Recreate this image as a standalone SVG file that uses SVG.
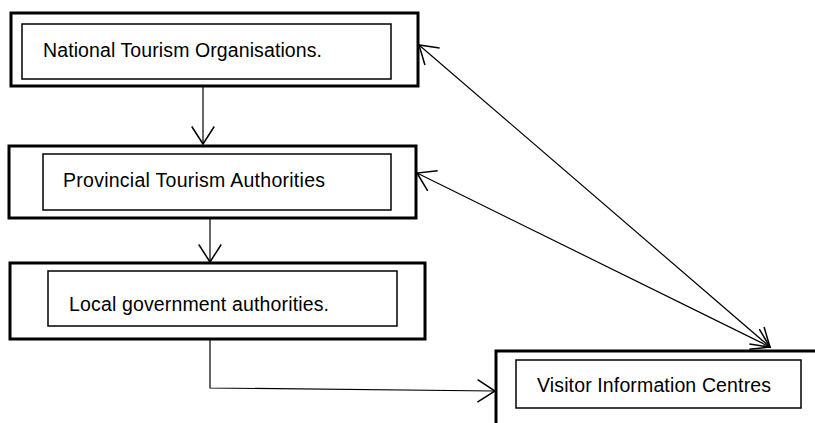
<svg xmlns="http://www.w3.org/2000/svg" width="815" height="423" viewBox="0 0 815 423">
<style>
.outer{fill:#fff;stroke:#000;stroke-width:3}
.inner{fill:#fff;stroke:#000;stroke-width:1.5}
.lbl{font-family:"Liberation Sans",Arial,sans-serif;font-size:19.5px;fill:#000}
.con{fill:none;stroke:#000;stroke-width:1.2}
</style>
<defs>
<marker id="arr" markerUnits="userSpaceOnUse" markerWidth="30" markerHeight="30" viewBox="-16 -12 20 24" refX="0" refY="0" orient="auto-start-reverse">
<path d="M-14,-9 L0,0 L-14,9" fill="none" stroke="#000" stroke-width="1.2"/>
</marker>
</defs>
<rect x="0" y="0" width="815" height="423" fill="#fff"/>
<g id="n1">
<rect class="outer" x="11" y="13" width="407" height="73"/>
<rect class="inner" x="22" y="24" width="369" height="55"/>
<text class="lbl" x="43" y="57" textLength="279">National Tourism Organisations.</text>
</g>
<g id="n2">
<rect class="outer" x="9" y="146" width="407" height="72"/>
<rect class="inner" x="43" y="154" width="348" height="56"/>
<text class="lbl" x="63" y="187" textLength="262">Provincial Tourism Authorities</text>
</g>
<g id="n3">
<rect class="outer" x="10" y="263" width="415" height="76"/>
<rect class="inner" x="48" y="271" width="349" height="55"/>
<text class="lbl" x="69" y="311" textLength="260">Local government authorities.</text>
</g>
<g id="n4">
<rect class="outer" x="496" y="351" width="340" height="100"/>
<rect class="inner" x="516" y="360" width="285" height="48"/>
<text class="lbl" x="537" y="392" textLength="234">Visitor Information Centres</text>
</g>
<g id="connectors">
<path class="con" d="M203,86 L203,144" marker-end="url(#arr)"/>
<path class="con" d="M210,218 L210,262" marker-end="url(#arr)"/>
<path class="con" d="M210,339 L210,388 L495,391" marker-end="url(#arr)"/>
<path class="con" d="M419,45 L770,347" marker-start="url(#arr)" marker-end="url(#arr)"/>
<path class="con" d="M417,173 L770,347" marker-start="url(#arr)" marker-end="url(#arr)"/>
</g>
</svg>
